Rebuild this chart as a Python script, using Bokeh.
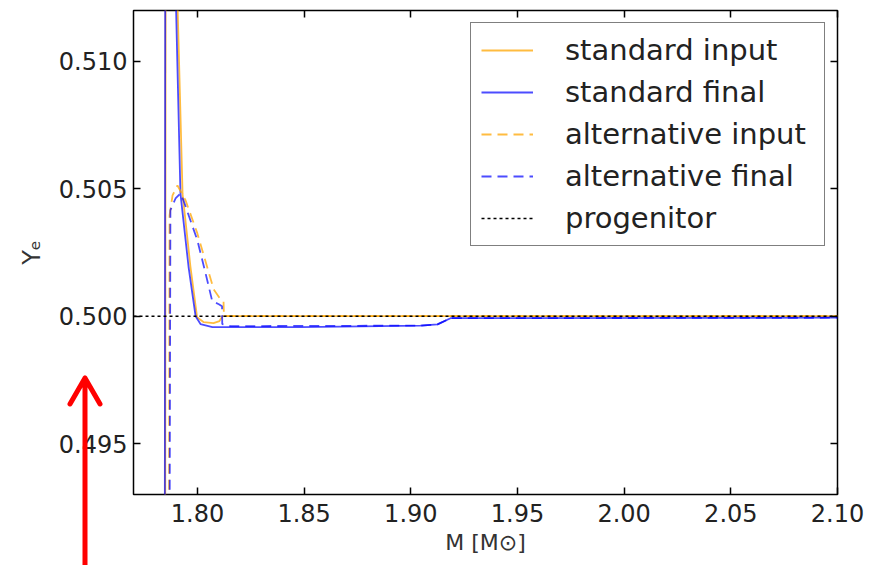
from bokeh.plotting import figure
from bokeh.models import (Range1d, FixedTicker, PrintfTickFormatter, LinearAxis,
                          Legend, LegendItem, InlineStyleSheet)
from bokeh.embed import file_html
from bokeh.resources import INLINE

# ---- data ----
std_input_m = [1.7847, 1.7852, 1.7885, 1.7930, 1.7967, 1.7998, 1.8028, 1.8075, 1.8103, 1.8117, 2.10]
std_input_ye = [0.470, 0.530, 0.519, 0.5048, 0.50194, 0.49996, 0.49977, 0.49973, 0.49981, 0.5000, 0.5000]

std_final_m = [1.7845, 1.7850, 1.7880, 1.7920, 1.7958, 1.7991, 1.8014, 1.8070, 1.8483, 1.9045, 1.9125, 1.9186, 2.10]
std_final_ye = [0.470, 0.530, 0.519, 0.50482, 0.50194, 0.5000, 0.49969, 0.49957, 0.49957, 0.49963, 0.49968, 0.49992, 0.49994]

alt_input_m = [1.7864, 1.7869, 1.7883, 1.7906, 1.7944, 1.7999, 1.8045, 1.8076, 1.8108, 1.8122, 1.8124, 2.10]
alt_input_ye = [0.480, 0.50396, 0.50474, 0.50513, 0.50455, 0.50326, 0.50194, 0.50105, 0.50066, 0.50058, 0.5000, 0.5000]

alt_final_m = [1.7866, 1.7873, 1.7897, 1.7920, 1.7934, 1.7999, 1.8037, 1.8069, 1.8100, 1.8115, 1.8116, 1.8155,
               1.9045, 1.9125, 1.9186, 2.10]
alt_final_ye = [0.480, 0.50416, 0.50462, 0.50482, 0.50455, 0.50299, 0.50171, 0.50059, 0.50047, 0.50039, 0.49969,
                0.49961, 0.49963, 0.49968, 0.49992, 0.49994]

progenitor_m = [1.77, 2.10]
progenitor_ye = [0.500, 0.500]

x_ticks = [1.80, 1.85, 1.90, 1.95, 2.00, 2.05, 2.10]
y_ticks = [0.495, 0.500, 0.505, 0.510]

CANVAS_W, CANVAS_H = 874, 557

FONT = "DejaVu Sans"
BLUE = "#0000ff"
ORANGE = "#ffa500"

# red annotation arrow in the lower-left margin (outside the plot frame), drawn as an SVG overlay
ARROW_SVG = ("<svg xmlns='http://www.w3.org/2000/svg' width='40' height='200'>"
             "<path d='M20 200 V6 M5 32 L20 6 L35 32' stroke='red' stroke-width='5' "
             "fill='none' stroke-linecap='round' stroke-linejoin='round'/></svg>")
arrow_css = InlineStyleSheet(css=(
    ":host::after { content: ''; position: absolute; left: 65px; top: 372px; "
    "width: 40px; height: 200px; pointer-events: none; z-index: 50; "
    "background: no-repeat url(\"data:image/svg+xml;utf8," + ARROW_SVG + "\"); }"
))

p = figure(width=CANVAS_W, height=CANVAS_H, output_backend="svg", toolbar_location=None,
           x_range=Range1d(1.77, 2.10), y_range=Range1d(0.493, 0.512),
           min_border_left=133, min_border_right=37, min_border_top=10, min_border_bottom=60,
           stylesheets=[arrow_css])
p.xgrid.visible = False
p.ygrid.visible = False
p.outline_line_color = "black"
p.outline_line_width = 1.5
p.background_fill_color = "white"
p.border_fill_color = "white"

r1 = p.line(std_input_m, std_input_ye, line_color=ORANGE, line_width=1.8, line_alpha=0.75)
r2 = p.line(std_final_m, std_final_ye, line_color=BLUE, line_width=1.8, line_alpha=0.7)
r3 = p.line(alt_input_m, alt_input_ye, line_color=ORANGE, line_width=1.8, line_alpha=0.75, line_dash="10 6")
r4 = p.line(alt_final_m, alt_final_ye, line_color=BLUE, line_width=1.8, line_alpha=0.7, line_dash="10 6")
r5 = p.line(progenitor_m, progenitor_ye, line_color="black", line_width=1.5, line_dash="3 3")

def style_axis(ax, ticks, fmt, labels=True):
    ax.ticker = FixedTicker(ticks=ticks)
    ax.formatter = PrintfTickFormatter(format=fmt)
    ax.major_tick_in = 7
    ax.major_tick_out = 0
    ax.minor_tick_in = 0
    ax.minor_tick_out = 0
    ax.major_tick_line_width = 1.5
    ax.major_tick_line_color = "black"
    ax.axis_line_color = None
    ax.major_label_text_font = FONT
    ax.major_label_text_color = "#222222"
    if labels:
        ax.major_label_text_font_size = "24px"
    else:
        ax.major_label_text_font_size = "0px"
        ax.major_label_standoff = 0

style_axis(p.xaxis[0], x_ticks, "%.2f")
style_axis(p.yaxis[0], y_ticks, "%.3f")
p.xaxis[0].major_label_standoff = 9
p.yaxis[0].major_label_standoff = 6

p.xaxis[0].axis_label = "M [M\u2299]"
p.yaxis[0].axis_label = "Y\u2091"
for ax in (p.xaxis[0], p.yaxis[0]):
    ax.axis_label_text_font = FONT
    ax.axis_label_text_font_style = "normal"
    ax.axis_label_text_color = "#333333"
p.xaxis[0].axis_label_text_font_size = "22px"
p.xaxis[0].axis_label_standoff = 5
p.yaxis[0].axis_label_text_font_size = "24px"
p.yaxis[0].axis_label_standoff = 10

top_ax = LinearAxis()
style_axis(top_ax, x_ticks, "%.2f", labels=False)
p.add_layout(top_ax, "above")
right_ax = LinearAxis()
style_axis(right_ax, y_ticks, "%.3f", labels=False)
p.add_layout(right_ax, "right")

legend = Legend(items=[
    LegendItem(label="standard input", renderers=[r1]),
    LegendItem(label="standard final", renderers=[r2]),
    LegendItem(label="alternative input", renderers=[r3]),
    LegendItem(label="alternative final", renderers=[r4]),
    LegendItem(label="progenitor", renderers=[r5]),
], location="top_right")
legend.label_text_font = FONT
legend.label_text_font_size = "29px"
legend.label_text_color = "#222222"
legend.border_line_color = "black"
legend.border_line_width = 1.5
legend.background_fill_alpha = 1.0
legend.margin = 12
legend.padding = 10
legend.spacing = 8
legend.glyph_width = 52
legend.glyph_height = 34
legend.label_height = 34
legend.label_standoff = 32
legend.label_width = 249
p.add_layout(legend, "center")

open("out.html", "w").write(file_html(p, INLINE))
